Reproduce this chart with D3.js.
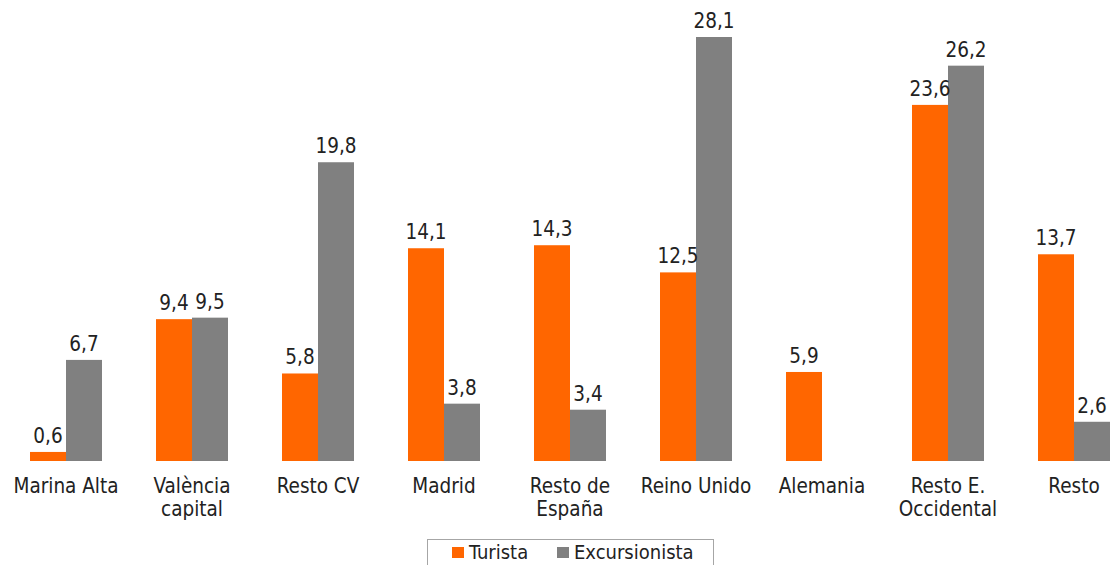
<!DOCTYPE html>
<html>
<head>
<meta charset="utf-8">
<script src="https://cdn.jsdelivr.net/npm/d3@7"></script>
<style>
  html, body { margin: 0; padding: 0; background: #fff; }
  svg { display: block; }
  text { font-family: "DejaVu Sans Condensed", "DejaVu Sans", sans-serif; font-stretch: condensed; fill: #222; }
</style>
</head>
<body>
<svg id="chart" width="1110" height="565"></svg>
<script>
const categories = ["Marina Alta", "València\ncapital", "Resto CV", "Madrid", "Resto de\nEspaña", "Reino Unido", "Alemania", "Resto E.\nOccidental", "Resto"];
const seriesNames = ["Turista", "Excursionista"];
const turista = [0.6, 9.4, 5.8, 14.1, 14.3, 12.5, 5.9, 23.6, 13.7];
const excursionista = [6.7, 9.5, 19.8, 3.8, 3.4, 28.1, null, 26.2, 2.6];
const colors = ["#FF6600", "#808080"];

const svg = d3.select("#chart");
const baseY = 461;

const x = d3.scaleBand().domain(categories).range([3, 3 + 126 * categories.length]).paddingInner(0.4286).paddingOuter(0.2143);
const xs = d3.scaleBand().domain(seriesNames).range([0, x.bandwidth()]);
const y = d3.scaleLinear().domain([0, 28.1]).range([baseY, 37]);

const fmt = v => d3.format(".1f")(v).replace(".", ",");

const data = categories.map((c, i) => ({ cat: c, vals: [turista[i], excursionista[i]] }));

const g = svg.append("g");
const groups = g.selectAll("g.grp").data(data).join("g")
  .attr("class", "grp")
  .attr("transform", d => `translate(${x(d.cat)},0)`);

groups.selectAll("rect").data(d => d.vals.map((v, j) => ({ v, s: seriesNames[j], j })).filter(e => e.v != null))
  .join("rect")
  .attr("x", e => xs(e.s))
  .attr("width", xs.bandwidth())
  .attr("y", e => y(e.v))
  .attr("height", e => baseY - y(e.v))
  .attr("fill", e => colors[e.j]);

groups.selectAll("text.val").data(d => d.vals.map((v, j) => ({ v, s: seriesNames[j], j })).filter(e => e.v != null))
  .join("text")
  .attr("class", "val")
  .attr("x", e => xs(e.s) + xs.bandwidth() / 2)
  .attr("y", e => y(e.v) - 9)
  .attr("text-anchor", "middle")
  .attr("font-size", 20.5)
  .text(e => fmt(e.v));

// category labels
const xAxis = g.append("g");
categories.forEach(c => {
  const lines = c.split("\n");
  const t = xAxis.append("text")
    .attr("x", x(c) + x.bandwidth() / 2)
    .attr("y", 493)
    .attr("text-anchor", "middle")
    .attr("font-size", 20.5);
  lines.forEach((l, k) => t.append("tspan").attr("x", x(c) + x.bandwidth() / 2).attr("dy", k === 0 ? 0 : 23).text(l));
});

// legend
const lg = svg.append("g");
lg.append("rect").attr("x", 427.5).attr("y", 539.5).attr("width", 286).attr("height", 40)
  .attr("fill", "#fff").attr("stroke", "#A6A6A6").attr("stroke-width", 1);
const legendX = [452, 557];
seriesNames.forEach((s, i) => {
  lg.append("rect").attr("x", legendX[i]).attr("y", 547).attr("width", 12).attr("height", 11).attr("fill", colors[i]);
  lg.append("text").attr("x", legendX[i] + 17).attr("y", 559).attr("font-size", 20).text(s);
});
</script>
</body>
</html>
